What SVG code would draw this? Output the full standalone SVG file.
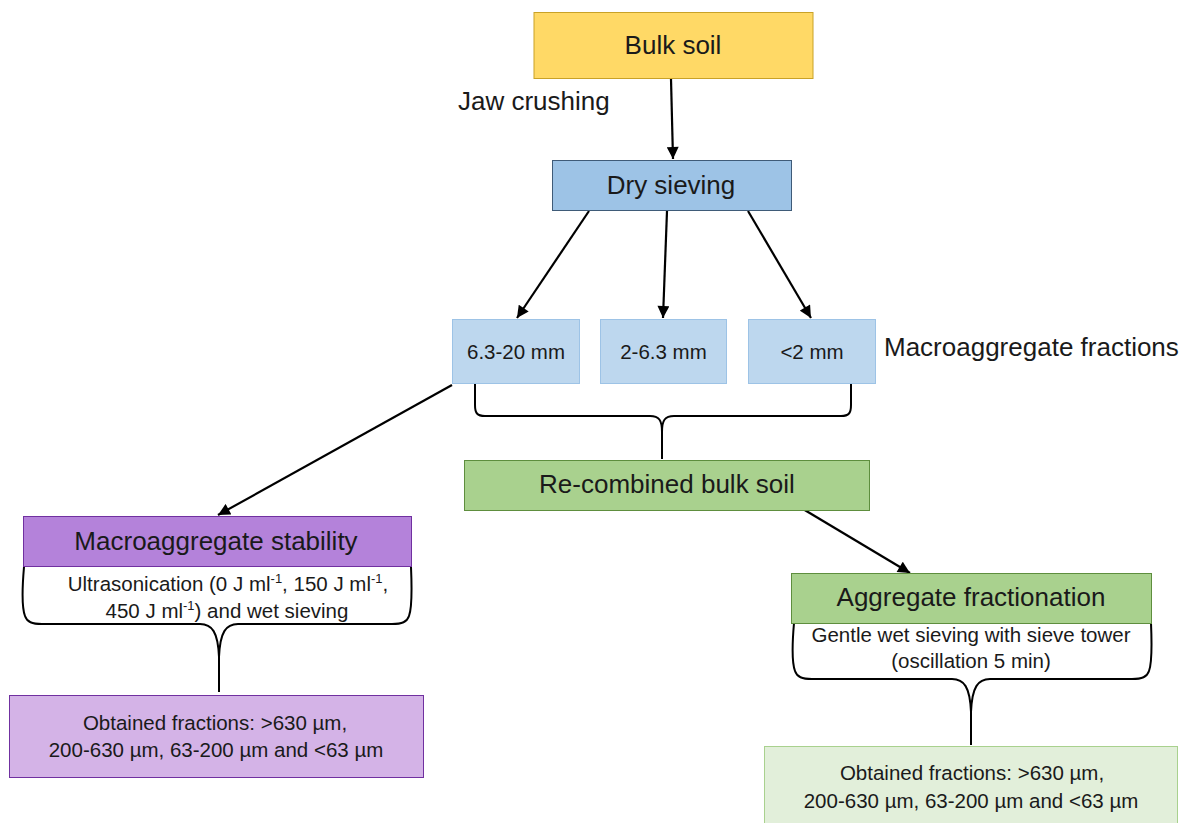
<svg xmlns="http://www.w3.org/2000/svg" width="1196" height="823" viewBox="0 0 1196 823">
<defs>
<marker id="ah" viewBox="0 0 10 10" refX="10" refY="5" markerWidth="13" markerHeight="12" markerUnits="userSpaceOnUse" orient="auto">
<path d="M0,0 L10,5 L0,10 z" fill="#000"/>
</marker>
<style>
text{font-family:"Liberation Sans",Arial,sans-serif;fill:#1a1a1a;text-anchor:middle}
.big{font-size:26px}
.sm{font-size:20.5px}
.sup{font-size:13px}
.conn{stroke:#000;stroke-width:2.2;fill:none}
.arrow{marker-end:url(#ah)}
.brace{stroke:#000;stroke-width:2;fill:none}
</style>
</defs>
<rect width="1196" height="823" fill="#fff"/>

<g id="connectors">
<line class="conn arrow" x1="671" y1="79" x2="673" y2="159"/>
<line class="conn arrow" x1="589" y1="211" x2="517" y2="318"/>
<line class="conn arrow" x1="667" y1="211" x2="663" y2="318"/>
<line class="conn arrow" x1="748" y1="211" x2="811" y2="318"/>
<line class="conn arrow" x1="452" y1="385" x2="218" y2="515"/>
<line class="conn arrow" x1="803" y1="509" x2="910" y2="573"/>
<path class="brace" d="M475,384 L475,405 C475,413 477,416 485,416 L650,416 C659,416 662,420 662,432 M851,384 L851,405 C851,413 849,416 841,416 L674,416 C665,416 662,420 662,432 L662,459"/>
<path class="brace" d="M24,567 C22,590 22,608 25,616 C27,622 32,624 42,624 L200,624 C212,624 218,632 219,657 M411,567 C412,590 412,608 409,616 C407,622 402,624 392,624 L238,624 C226,624 220,632 219,657 L219,692"/>
<path class="brace" d="M794,623 C792,646 792,663 795,671 C797,677 802,679 812,679 L952,679 C964,679 970,687 971,712 M1151,623 C1152,646 1152,663 1149,671 C1147,677 1142,679 1132,679 L990,679 C978,679 972,687 971,712 L971,745"/>
</g>

<g id="bulk-soil">
<rect x="534" y="12.5" width="279" height="66" fill="#FFD966" stroke="#C9A227" stroke-width="1"/>
<text class="big" x="673" y="54">Bulk soil</text>
</g>

<g id="jaw-crushing-label">
<text class="big" x="458" y="110" style="text-anchor:start">Jaw crushing</text>
</g>

<g id="dry-sieving">
<rect x="552.5" y="160.5" width="239" height="50" fill="#9DC3E6" stroke="#3F5B78" stroke-width="1"/>
<text class="big" x="671" y="194">Dry sieving</text>
</g>

<g id="frac-6-3-20">
<rect x="452.5" y="319.5" width="127" height="64" fill="#BDD7EE" stroke="#9DC3E6" stroke-width="1"/>
<text class="sm" x="516" y="359">6.3-20 mm</text>
</g>
<g id="frac-2-6-3">
<rect x="600.5" y="319.5" width="126" height="64" fill="#BDD7EE" stroke="#9DC3E6" stroke-width="1"/>
<text class="sm" x="663.5" y="359">2-6.3 mm</text>
</g>
<g id="frac-lt2">
<rect x="748.5" y="319.5" width="127" height="64" fill="#BDD7EE" stroke="#9DC3E6" stroke-width="1"/>
<text class="sm" x="812" y="359">&lt;2 mm</text>
</g>

<g id="macroaggregate-fractions-label">
<text class="big" x="884" y="356" style="text-anchor:start">Macroaggregate fractions</text>
</g>

<g id="recombined">
<rect x="464.5" y="460.5" width="405" height="50" fill="#A9D18E" stroke="#5E8E3E" stroke-width="1"/>
<text class="big" x="667" y="493">Re-combined bulk soil</text>
</g>

<g id="macro-stability">
<rect x="23.5" y="516.5" width="388" height="50" fill="#B482DA" stroke="#7030A0" stroke-width="1"/>
<text class="big" x="216" y="550">Macroaggregate stability</text>
<text class="sm" x="228" y="591">Ultrasonication (0 J ml<tspan class="sup" dy="-8">-1</tspan><tspan dy="8">, 150 J ml</tspan><tspan class="sup" dy="-8">-1</tspan><tspan dy="8">,</tspan></text>
<text class="sm" x="227" y="618">450 J ml<tspan class="sup" dy="-8">-1</tspan><tspan dy="8">) and wet sieving</tspan></text>
</g>

<g id="macro-obtained">
<rect x="9.5" y="695.5" width="414" height="82" fill="#D4B3E7" stroke="#7030A0" stroke-width="1"/>
<text class="sm" x="215" y="730">Obtained fractions: &gt;630 µm,</text>
<text class="sm" x="216" y="757">200-630 µm, 63-200 µm and &lt;63 µm</text>
</g>

<g id="aggregate-fractionation">
<rect x="791.5" y="573.5" width="360" height="50" fill="#A9D18E" stroke="#5E8E3E" stroke-width="1"/>
<text class="big" x="971" y="606">Aggregate fractionation</text>
<text class="sm" x="971" y="642">Gentle wet sieving with sieve tower</text>
<text class="sm" x="971" y="668">(oscillation 5 min)</text>
</g>

<g id="agg-obtained">
<rect x="764.5" y="746.5" width="413" height="90" fill="#E2EFDA" stroke="#A9D18E" stroke-width="1"/>
<text class="sm" x="972" y="780">Obtained fractions: &gt;630 µm,</text>
<text class="sm" x="971" y="808">200-630 µm, 63-200 µm and &lt;63 µm</text>
</g>
</svg>
